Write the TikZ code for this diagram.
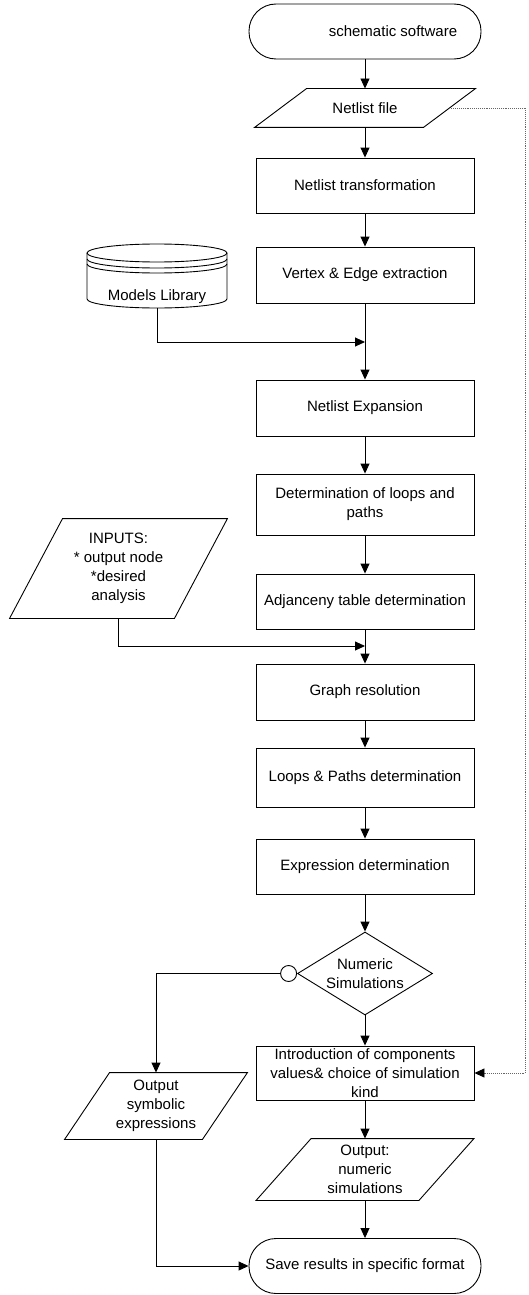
\documentclass[tikz,border=0pt]{standalone}
\usepackage{fontspec}
\setmainfont{Liberation Sans}
\usetikzlibrary{shapes.geometric,arrows.meta,positioning}

\tikzset{
  base/.style={font=\fontsize{15}{19}\selectfont, inner sep=0pt, align=center},
  proc/.style={base, draw, minimum width=218pt, minimum height=#1},
  proc/.default=56pt,
  term/.style={base, draw, rounded corners=27pt, minimum width=232pt, minimum height=55pt},
  io/.style={base, minimum width=#1},
  decide/.style={base, draw, diamond, aspect=1.63, minimum width=135pt, minimum height=83pt},
  conn/.style={draw, circle, inner sep=0pt, minimum size=16pt},
}
\newcommand{\ioframe}[2]{%
  \draw ([xshift=#2/2]#1.north west) -- ([xshift=#2/2]#1.north east)
    -- ([xshift=-#2/2]#1.south east) -- ([xshift=-#2/2]#1.south west) -- cycle;}

\begin{document}
\begin{tikzpicture}[x=1pt, y=-1pt, line width=0.9pt, >={Triangle[length=10pt,width=9pt]}]
  \useasboundingbox (0,0) rectangle (529,1295);
  % main column
  \node[term] (start) at (365,31.5) {\hspace*{56pt}schematic software};
  \node[io=168pt, minimum height=38pt] (netlist) at (365,108) {Netlist file};
  \ioframe{netlist}{52pt}
  \node[proc=55pt] (ntrans) at (365,185.5) {Netlist transformation};
  \node[proc] (vertex) at (365,275) {Vertex \& Edge extraction};
  \node[proc] (nexpand) at (365,408) {Netlist Expansion};
  \node[proc=61pt] (loopsp) at (365,504.5) {Determination of loops and\\paths};
  \node[proc=55pt] (adjtab) at (365,601.5) {Adjanceny table determination};
  \node[proc] (graphres) at (365,692) {Graph resolution};
  \node[proc=59pt] (lpdet) at (365,777.5) {Loops \& Paths determination};
  \node[proc=55pt] (exprdet) at (365,866.5) {Expression determination};
  \node[decide] (numsim) at (365,973.5) {Numeric\\Simulations};
  \node[conn, left=0pt of numsim] (cnode) {};
  \node[proc=54pt] (intro) at (365,1073) {Introduction of components\\values\& choice of simulation\\kind};
  \node[io=162pt, minimum height=61pt] (outnum) at (365,1169.5) {Output:\\numeric\\simulations};
  \ioframe{outnum}{55pt}
  \node[term] (save) at (365,1266) {Save results in specific format};

  % side inputs and outputs
  \node[io=164pt, minimum height=99pt] (inputs) at (118.5,568.5) {INPUTS:\\* output node\\*desired\\analysis};
  \ioframe{inputs}{53pt}
  \node[io=137pt, minimum height=66pt] (outsym) at (156,1106) {Output\\symbolic\\expressions};
  \ioframe{outsym}{45pt}

  % models library (drum)
  \draw (157,253) ellipse [x radius=70, y radius=9];
  \draw (87,259) arc[start angle=180, end angle=0, x radius=70, y radius=9];
  \draw (87,264) arc[start angle=180, end angle=0, x radius=70, y radius=9];
  \draw (87,253) -- (87,299) arc[start angle=180, end angle=0, x radius=70, y radius=9] -- (227,253);
  \node[base] (mlib) at (157,297) {Models Library};
  \coordinate (mlibbot) at (157,308);

  \coordinate (modjoin) at (365,342);
  \coordinate (injoin) at (365,646);
  \coordinate (rtop) at (525,108);
  \coordinate (rbot) at (525,1073);

  \path[->]
    (start) edge (netlist)
    (netlist) edge (ntrans)
    (ntrans) edge (vertex)
    (vertex) edge (nexpand)
    (nexpand) edge (loopsp)
    (loopsp) edge (adjtab)
    (adjtab) edge (graphres)
    (graphres) edge (lpdet)
    (lpdet) edge (exprdet)
    (exprdet) edge (numsim)
    (numsim) edge (intro)
    (intro) edge (outnum)
    (outnum) edge (save)
  ;
  \draw[->] (mlibbot) |- (modjoin);
  \draw[->] (inputs.south) |- (injoin);
  \draw[->] (cnode.west) -| (outsym.north);
  \draw[->] (outsym.south) |- (save.west);
  \draw[-{Triangle[length=10pt,width=9pt,color=black]}, black!60, densely dotted]
    (netlist.east) -- (rtop) -- (rbot) -- (intro.east);
\end{tikzpicture}
\end{document}
